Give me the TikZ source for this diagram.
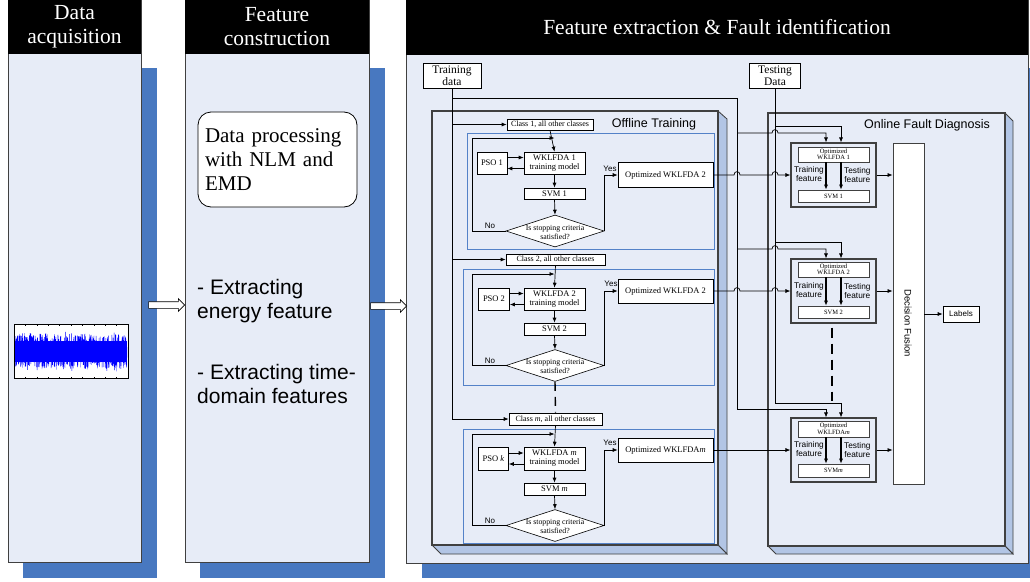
\documentclass[tikz,border=0pt]{standalone}
\usepackage{fontspec}
\setmainfont{Liberation Serif}
\setsansfont{Liberation Sans}
\usetikzlibrary{arrows.meta,shapes.geometric,shapes.arrows,calc}
\definecolor{pan}{RGB}{231,236,247}
\definecolor{shad}{RGB}{72,120,192}
\definecolor{side}{RGB}{178,197,229}
\definecolor{bline}{RGB}{84,130,200}
\definecolor{edge}{RGB}{64,64,64}
\begin{document}
\begin{tikzpicture}[x=1pt,y=-1pt,
  arr/.style={-{Latex[length=5pt,width=4pt]}, line width=0.7pt},
  ln/.style={line width=0.7pt},
  hdr/.style={text=white, align=center, font=\fontsize{21.5}{24}\selectfont, inner sep=0pt},
  bigsf/.style={font=\sffamily\fontsize{21}{24}\selectfont, align=left, inner sep=0pt},
  bx/.style={draw=black, line width=0.6pt, fill=white, inner sep=0pt, align=center, font=\fontsize{8.5}{9}\selectfont},
  cl/.style={bx, font=\fontsize{8}{9}\selectfont, minimum height=11},
  smb/.style={bx, draw=edge, font=\fontsize{6.5}{6.5}\selectfont, minimum width=71},
  lbl/.style={font=\sffamily\fontsize{8}{9}\selectfont, inner sep=0pt},
  fl/.style={font=\sffamily\fontsize{8.3}{9.5}\selectfont, align=center, inner sep=0pt},
  ttl/.style={font=\sffamily\fontsize{12.5}{14}\selectfont, inner sep=0pt},
  dia/.style={draw=black, line width=0.6pt, fill=white, shape=diamond, inner sep=0pt, minimum width=98, minimum height=32},
  diat/.style={font=\fontsize{7.8}{9}\selectfont, align=center, inner sep=0pt},
  frm/.style={draw=edge, line width=1.1pt, fill=pan, inner sep=0pt, minimum width=85, minimum height=64},
  hol/.style={single arrow, draw=black, fill=white, line width=0.6pt, minimum height=36, minimum width=12, single arrow head extend=3pt, inner xsep=0pt, inner ysep=3pt}
]
\useasboundingbox (0,0) rectangle (1030,581);

% ---------- panel 1
\fill[shad] (23,68) rectangle (157,578);
\filldraw[fill=pan,draw=edge,line width=0.8pt] (8,0) rectangle (141,562);
\fill[black] (8,0) rectangle (141,54);
\node[hdr] (h1) at (74.5,27) {Data\\acquisition};
% signal
\fill[white] (14,324) rectangle (128,378);
\begin{scope}
\clip (14.5,326) rectangle (127.5,376);
\pgfmathsetseed{11}
\fill[blue] (15,341) rectangle (127,362);
\draw[blue, line width=0.4pt] plot[domain=15:127, samples=900] (\x,{351.5+17*rand+5*rand*abs(rand)});
\end{scope}
\foreach \t in {0,...,10} {
  \draw[line width=0.3pt] ({14+11.4*\t},324) -- ++(0,1.5);
  \draw[line width=0.3pt] ({14+11.4*\t},378) -- ++(0,-1.5);
}
\draw[line width=0.8pt] (14,324) rectangle (128,378);

% ---------- panel 2
\fill[shad] (200,68) rectangle (385,578);
\filldraw[fill=pan,draw=edge,line width=0.8pt] (185,0) rectangle (369,562);
\fill[black] (185,0) rectangle (369,54);
\node[hdr] (h2) at (277,27) {Feature\\construction};
\node[draw=black, line width=0.8pt, fill=white, rounded corners=13pt, minimum width=159, minimum height=95, text width=145, align=left, font=\fontsize{21}{24}\selectfont, inner sep=0pt] (dp) at (277.5,159.5) {Data processing\\with NLM and\\EMD};
\node[bigsf, anchor=west] (e1) at (197,301) {- Extracting\\energy feature};
\node[bigsf, anchor=west] (e2) at (197,384) {- Extracting time-\\domain features};

% ---------- panel 3
\fill[shad] (422,68) rectangle (1040,578);
\filldraw[fill=pan,draw=edge,line width=0.8pt] (406,0) rectangle (1028,563);
\fill[black] (406,0) rectangle (1028,55);
\node[hdr] (h3) at (717,27) {Feature extraction \& Fault identification};

% hollow arrows
\node[hol] (ar1) at (165,305) {};
\node[hol] (ar2) at (387,306) {};

% offline frame
\filldraw[fill=side,draw=edge,line width=0.8pt] (718,111) -- (727,119) -- (727,554) -- (718,545) -- cycle;
\filldraw[fill=side,draw=edge,line width=0.8pt] (432,545) -- (441,554) -- (727,554) -- (718,545) -- cycle;
\filldraw[fill=pan,draw=edge,line width=1.1pt] (432,111) rectangle (718,545);
\node[ttl] (offt) at (654,124) {Offline Training};

% online frame
\filldraw[fill=side,draw=edge,line width=0.8pt] (1005,113) -- (1013,121) -- (1013,554) -- (1005,546) -- cycle;
\filldraw[fill=side,draw=edge,line width=0.8pt] (768,546) -- (776,554) -- (1013,554) -- (1005,546) -- cycle;
\filldraw[fill=pan,draw=edge,line width=1.1pt] (768,113) rectangle (1005,546);
\node[ttl] (ont) at (927,125) {Online Fault Diagnosis};

% blue boxes
\draw[bline, line width=0.7pt] (467,133) rectangle (714,249);
\draw[bline, line width=0.7pt] (463,269) rectangle (714,385);
\draw[bline, line width=0.7pt] (463,429) rectangle (714,543);

% data boxes
\node[bx, font=\fontsize{11.5}{12}\selectfont, minimum width=58, minimum height=25] (tr) at (452,75.5) {Training\\data};
\node[bx, font=\fontsize{11.5}{12}\selectfont, minimum width=51, minimum height=25] (te) at (775,75.5) {Testing\\Data};

% ----- offline block 1
\node[cl, minimum width=86] (c1) at (550,124.5) {Class 1, all other classes};
\node[bx, minimum width=61, minimum height=22] (w1) at (554.5,163) {WKLFDA 1\\training model};
\node[bx, minimum width=30, minimum height=22] (p1) at (492,163) {PSO 1};
\node[bx, minimum width=61, minimum height=11] (s1) at (554.5,193.5) {SVM 1};
\node[dia] (d1) at (555,231) {};
\node[diat] (d1t) at (555,232) {Is stopping criteria\\satisfied?};
\node[bx, minimum width=95, minimum height=25] (o1) at (665.5,175) {Optimized WKLFDA 2};
\node[lbl] (y1) at (610,169) {Yes};
\node[lbl] (n1) at (490,226) {No};

% ----- offline block 2
\node[cl, minimum width=99] (c2) at (555.5,259.5) {Class 2, all other classes};
\node[bx, minimum width=61, minimum height=22] (w2) at (554.5,299) {WKLFDA 2\\training model};
\node[bx, minimum width=31, minimum height=22] (p2) at (494,299) {PSO 2};
\node[bx, minimum width=61, minimum height=12] (s2) at (554.5,329) {SVM 2};
\node[dia] (d2) at (555,365.5) {};
\node[diat] (d2t) at (555,366.5) {Is stopping criteria\\satisfied?};
\node[bx, minimum width=95, minimum height=24] (o2) at (665.5,291) {Optimized WKLFDA 2};
\node[lbl] (y2) at (611,284) {Yes};
\node[lbl] (n2) at (490,361) {No};

% ----- offline block m
\node[cl, minimum width=93, minimum height=12] (cm) at (555.5,419) {Class \textit{m}, all other classes};
\node[bx, minimum width=61, minimum height=23] (wm) at (554.5,458.5) {WKLFDA \textit{m}\\training model};
\node[bx, minimum width=30, minimum height=23] (pm) at (493.5,458.5) {PSO \textit{k}};
\node[bx, minimum width=61, minimum height=12] (sm) at (554.5,489) {SVM \textit{m}};
\node[dia] (dm) at (555,525.5) {};
\node[diat] (dmt) at (555,526.5) {Is stopping criteria\\satisfied?};
\node[bx, minimum width=95, minimum height=24] (om) at (665.5,450) {Optimized WKLFDA\textit{m}};
\node[lbl] (ym) at (610,443) {Yes};
\node[lbl] (nm) at (490,521) {No};

% offline connectors
\foreach \c/\w/\p/\s/\d/\o/\ly in {c1/w1/p1/s1/d1/o1/138, c2/w2/p2/s2/d2/o2/274, cm/wm/pm/sm/dm/om/434} {
  \draw[arr] (\c.south) -- (\w.north);
  \draw[arr] (\w.south) -- (\s.north);
  \draw[arr] (\s.south) -- (\d.north);
  \draw[arr] ([yshift=5.5pt]\p.east) -- ([yshift=5.5pt]\w.west);
  \draw[arr] ([yshift=-5.5pt]\w.west) -- ([yshift=-5.5pt]\p.east);
  \draw[arr] (\d.west) -| (472,\ly) -- (\w.north |- 472,\ly);
  \draw[arr] (\d.east) |- (\o.west);
}
\draw[line width=1.4pt, dash pattern=on 9pt off 6pt] (d2.south) -- (cm.north);

% ----- online blocks
\node[frm] (f1) at (833.5,175) {};
\node[smb, minimum height=15] (q1) at (833.5,154.5) {Optimized\\WKLFDA 1};
\node[smb, minimum height=12] (v1) at (833.5,196) {SVM 1};
\node[fl, anchor=east] (tf1) at (824,174) {Training\\feature};
\node[fl, anchor=west] (sf1) at (844,175) {Testing\\feature};

\node[frm] (f2) at (833.5,291) {};
\node[smb, minimum height=15] (q2) at (833.5,269.5) {Optimized\\WKLFDA 2};
\node[smb, minimum height=12] (v2) at (833.5,312) {SVM 2};
\node[fl, anchor=east] (tf2) at (824,290) {Training\\feature};
\node[fl, anchor=west] (sf2) at (844,291) {Testing\\feature};

\node[frm] (fm) at (833.5,450) {};
\node[smb, minimum height=16] (qm) at (833.5,429) {Optimized\\WKLFDA\textit{m}};
\node[smb, minimum height=13] (vm) at (833.5,470.5) {SVM\textit{m}};
\node[fl, anchor=east] (tfm) at (824,449) {Training\\feature};
\node[fl, anchor=west] (sfm) at (844,450) {Testing\\feature};

\foreach \q/\v in {q1/v1, q2/v2, qm/vm} {
  \draw[arr, line width=1.1pt] ([xshift=-7.5pt]\q.south) -- ([xshift=-7.5pt]\v.north);
  \draw[arr, line width=1.1pt] ([xshift=7.5pt]\q.south) -- ([xshift=7.5pt]\v.north);
}
\draw[line width=1.3pt, dash pattern=on 10pt off 6pt] ([xshift=-1.5pt,yshift=-4pt]f2.south) -- ++(0,73);

% fusion and labels
\node[draw=edge, line width=0.8pt, fill=white, minimum width=31, minimum height=341, inner sep=0pt] (fu) at (908.5,313.5) {};
\node[rotate=-90, font=\sffamily\fontsize{9.5}{10}\selectfont, inner sep=0pt] (fut) at (908,323) {Decision Fusion};
\node[bx, font=\sffamily\fontsize{8}{9}\selectfont, minimum width=36, minimum height=16] (lab) at (961,314) {Labels};
\draw[arr] (fu.east |- lab.west) -- (lab.west);
\foreach \f in {f1,f2,fm} { \draw[arr] (\f.east) -- (\f.east -| fu.west); }

% ----- training data connectors
\coordinate (tj) at (452,98);
\coordinate (tk) at (737,98);
\draw[arr] (tr.south) |- (cm.west);
\draw[arr] (tr.south |- c1.west) -- (c1.west);
\draw[arr] (tr.south |- c2.west) -- (c2.west);
\draw[arr] (tj) -- (tk) -- (737,409) -| ([xshift=-7.5pt]fm.north);
\draw[arr] (737,133) -- (772,133) .. controls (772,128.5) and (778,128.5) .. (778,133) -| ([xshift=-7.5pt]f1.north);
\draw[arr] (737,249) -- (772,249) .. controls (772,244.5) and (778,244.5) .. (778,249) -| ([xshift=-7.5pt]f2.north);

% ----- testing data connectors
\draw[arr] (te.south) -- (775,403) -| ([xshift=7.5pt]fm.north);
\draw[arr] (775,126) -| ([xshift=7.5pt]f1.north);
\draw[arr] (775,242) -| ([xshift=7.5pt]f2.north);

% ----- optimized outputs to online blocks
\draw[arr] (o1.east) -- (734,175) .. controls (734,170.5) and (740,170.5) .. (740,175) -- (772,175) .. controls (772,170.5) and (778,170.5) .. (778,175) -- (f1.west);
\draw[arr] (o2.east) -- (734,291) .. controls (734,286.5) and (740,286.5) .. (740,291) -- (772,291) .. controls (772,286.5) and (778,286.5) .. (778,291) -- (f2.west);
\draw[arr] (om.east) -- (fm.west);
\end{tikzpicture}
\end{document}
